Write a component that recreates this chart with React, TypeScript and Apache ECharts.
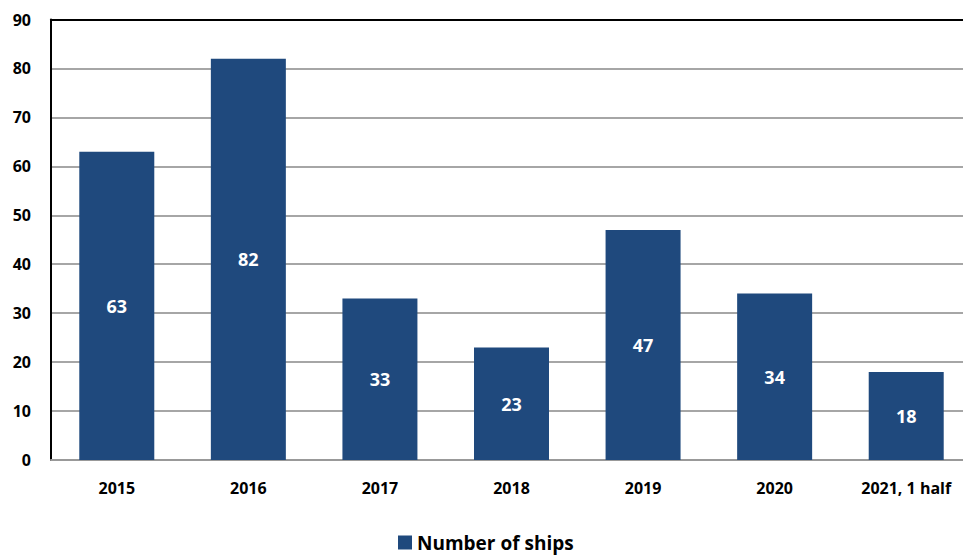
import React, { useEffect, useRef } from "react";
import * as echarts from "echarts";

const categories = ["2015", "2016", "2017", "2018", "2019", "2020", "2021, 1 half"];
const ships = [63, 82, 33, 23, 47, 34, 18];
const seriesName = "Number of ships";

export default function App() {
  const ref = useRef<HTMLDivElement>(null);
  useEffect(() => {
    const chart = echarts.init(ref.current!, null, { renderer: "svg" });
    const font = "'Open Sans', 'Liberation Sans', sans-serif";
    chart.setOption({
      animation: false,
      backgroundColor: "#ffffff",
      grid: { left: 51, right: 0, top: 19.5, bottom: 96, containLabel: false },
      legend: {
        bottom: -1,
        left: 393,
        itemWidth: 14,
        itemHeight: 14,
        icon: "rect",
        itemGap: 10,
        textStyle: { fontFamily: font, fontWeight: "bold", fontSize: 19, color: "#000" },
        data: [seriesName],
      },
      xAxis: [
        {
          type: "category",
          data: categories,
          axisTick: { show: false },
          axisLine: { lineStyle: { color: "#999", width: 2 } },
          axisLabel: { fontFamily: font, fontWeight: "bold", fontSize: 16, color: "#000", margin: 20 },
        },
        {
          type: "category",
          position: "top",
          data: categories,
          axisTick: { show: false },
          axisLabel: { show: false },
          axisLine: { lineStyle: { color: "#000", width: 2 } },
        },
      ],
      yAxis: {
        type: "value",
        min: 0,
        max: 90,
        interval: 10,
        axisLine: { show: true, lineStyle: { color: "#000", width: 2 } },
        axisTick: { show: false },
        splitLine: { lineStyle: { color: "#a6a6a6", width: 2 } },
        axisLabel: { fontFamily: font, fontWeight: "bold", fontSize: 16, color: "#000", margin: 20 },
      },
      series: [
        {
          name: seriesName,
          type: "bar",
          data: ships,
          barWidth: "57%",
          itemStyle: { color: "#1f497d" },
          label: {
            show: true,
            position: "inside",
            color: "#fff",
            fontFamily: font,
            fontWeight: "bold",
            fontSize: 18,
          },
        },
      ],
    });
    return () => chart.dispose();
  }, []);
  return (
    <div style={{ position: "fixed", left: 0, top: 0, width: 963, height: 556, overflow: "hidden" }}>
      <div ref={ref} style={{ width: 971.5, height: 556 }} />
    </div>
  );
}
